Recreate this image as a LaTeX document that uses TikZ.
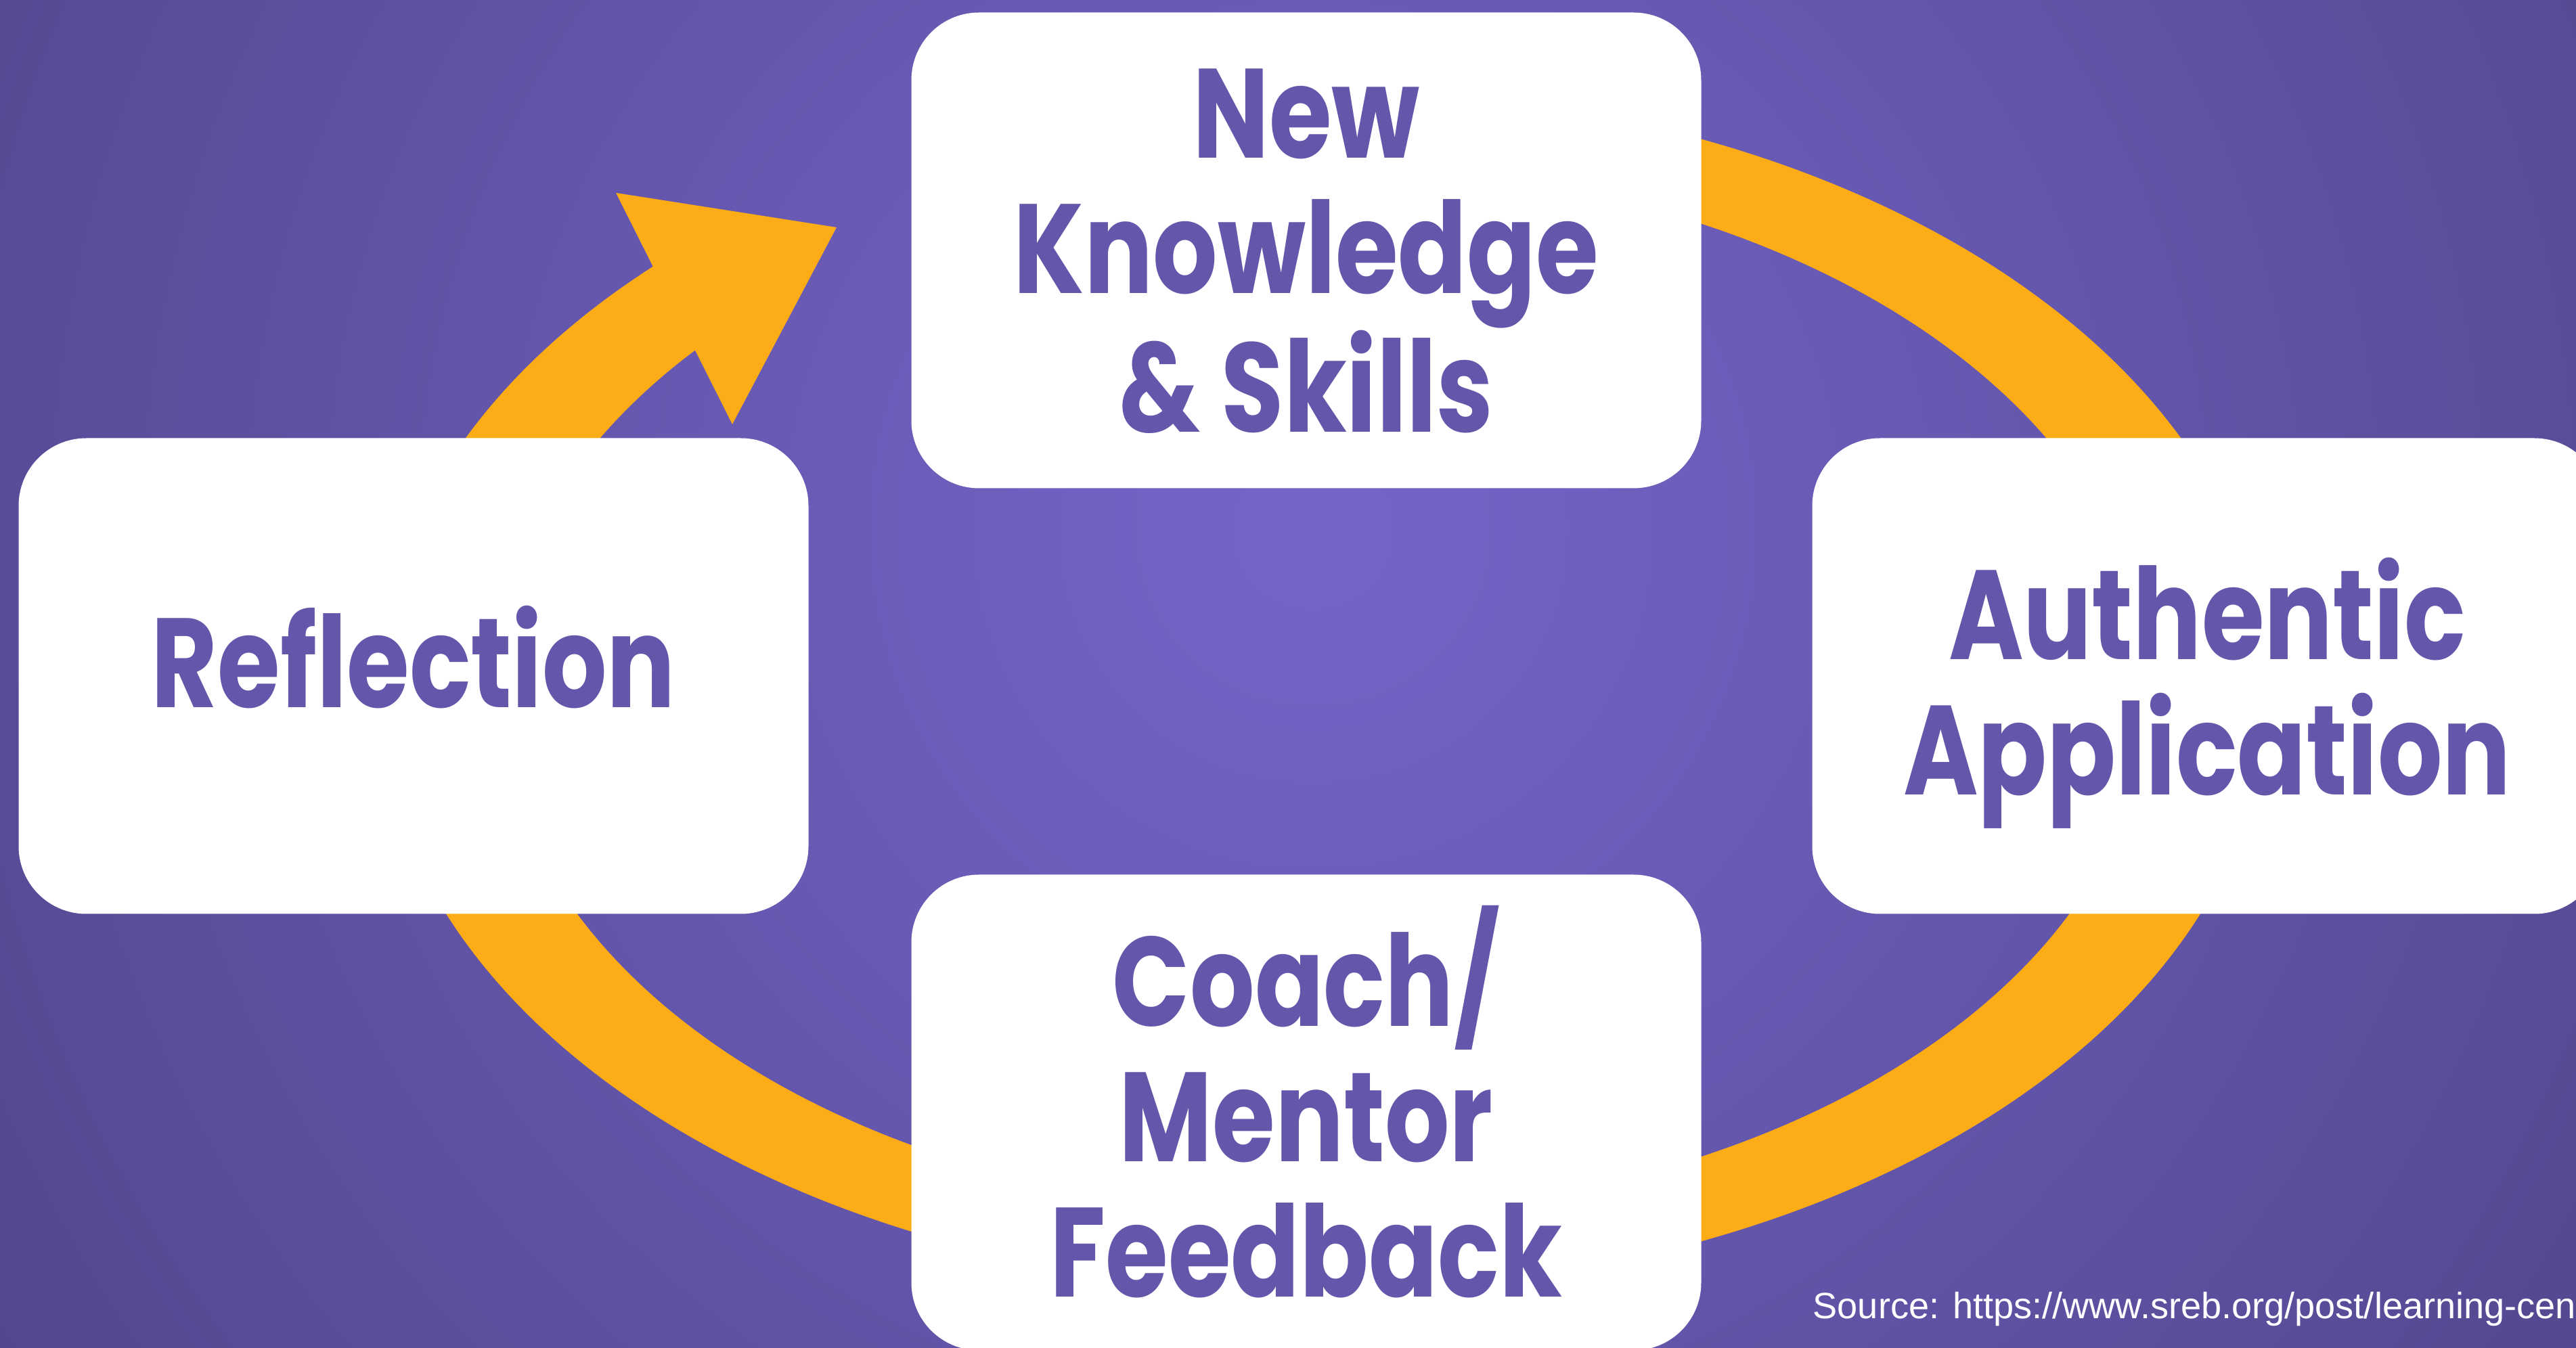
\documentclass[tikz,border=0pt]{standalone}
\usepackage{fontspec}
\setmainfont{Liberation Sans}
\newfontfamily\cardfont{Poppins}[FakeStretch=0.80]
\definecolor{bgin}{HTML}{7565C9}
\definecolor{bgout}{HTML}{53478F}
\definecolor{ringcol}{HTML}{FCAC17}
\definecolor{inkcol}{HTML}{6357AB}
\tikzset{
  card/.style={fill=white, rounded corners=1cm, minimum width=11.67cm, minimum height=7.03cm,
    inner sep=0pt, align=center, text=inkcol, text depth=0pt,
    font=\cardfont\bfseries\fontsize{53.4pt}{56.9pt}\selectfont},
  ring/.style={draw=ringcol, line width=1.13cm},
}

\begin{document}
\begin{tikzpicture}
			%%%%% BACKGROUND %%%%%
			\useasboundingbox (0,0) rectangle (38.06,19.91);
			\fill[bgout] (0,0) rectangle (38.06,19.91);
			\begin{scope}
				\clip (0,0) rectangle (38.06,19.91);
				\shade[inner color=bgin, outer color=bgout] (19.4,12.1) circle (23);
			\end{scope}
			
			%%%%% RING %%%%%
			\coordinate (cen) at (19.55,9.71);
			\begin{scope}[transform canvas={shift={(19.55,9.71)}, xscale=1.5709}]
				\draw[ring] (80:8.32) arc[start angle=80, end angle=-225, radius=8.32];
			\end{scope}
			\coordinate (tip) at (12.36,16.55);
			\coordinate (wing1) at (9.10,17.06);
			\coordinate (wing2) at (10.82,13.64);
			\fill[ringcol] (tip) -- (wing1) -- (wing2) -- cycle;
			
			%%%%% CARDS %%%%%
			\node[card] (know) at (19.30,16.21) {New\\Knowledge\\\& Skills};
			\node[card] (appl) at (32.61,9.92) {Authentic\\Application};
			\node[card, text depth=3.4mm] (coach) at (19.30,3.47) {Coach/\\Mentor\\Feedback};
			\node[card, text depth=5.8mm] (refl) at (6.11,9.92) {Reflection};
			
			\begin{scope}
				\clip (0,0) rectangle (38.06,19.91);
				\node[anchor=base west, inner sep=0pt, text=white, font=\fontsize{15.4pt}{18pt}\selectfont] (src) at (26.78,0.43) {Source: https://www.sreb.org/post/learning-cen};
			\end{scope}
\end{tikzpicture}
\end{document}
